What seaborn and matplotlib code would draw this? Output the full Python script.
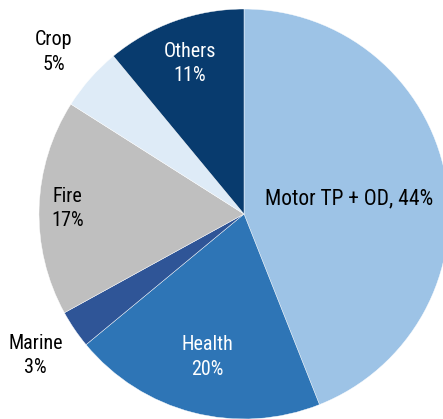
import numpy as np
import matplotlib
matplotlib.use("Agg")
import matplotlib.pyplot as plt
from matplotlib import font_manager
import seaborn as sns

# Data (clockwise from 12 o'clock)
segments = ["Motor TP + OD", "Health", "Marine", "Fire", "Crop", "Others"]
shares = [44, 20, 3, 17, 5, 11]
colors = ["#9DC3E6", "#2E75B6", "#2F5597", "#BFBFBF", "#DEEBF7", "#083B6E"]
text_colors = ["black", "white", "black", "black", "black", "white"]
label_radius = [0.52, 0.72, 1.23, 0.86, 1.22, 0.78]
label_turn = [0, 0, 0, 0, 1.0, 0]  # degrees nudged from the wedge middle

sns.set_style("white")
available = {f.name for f in font_manager.fontManager.ttflist}
narrow = [f for f in ["Roboto Condensed", "Liberation Sans Narrow"] if f in available]
plt.rcParams["font.family"] = narrow + ["Liberation Sans", "DejaVu Sans"]

fig = plt.figure(figsize=(4.43, 4.19), dpi=100)
ax = fig.add_axes([39 / 443, 0 / 419, 410 / 443, 410 / 419])

wedges, _ = ax.pie(shares, colors=colors, startangle=90, counterclock=False,
                   radius=1, wedgeprops=dict(edgecolor="white", linewidth=0.3))

for w, name, val, tc, r, t in zip(wedges, segments, shares, text_colors,
                                  label_radius, label_turn):
    ang = np.deg2rad((w.theta1 + w.theta2) / 2 + t)
    x, y = r * np.cos(ang), r * np.sin(ang)
    if name.startswith("Motor"):
        ax.text(x, y - 0.025, f"{name}, {val}%", ha="center", va="center",
                color=tc, fontsize=15.5, fontstretch="condensed")
    else:
        ax.text(x, y, f"{name}\n{val}%", ha="center", va="center", color=tc,
                fontsize=14.5, linespacing=1.35, fontstretch="condensed")

ax.set_xlim(-1, 1)
ax.set_ylim(-1, 1)
ax.set_axis_off()

fig.savefig("out.png", dpi=100)
